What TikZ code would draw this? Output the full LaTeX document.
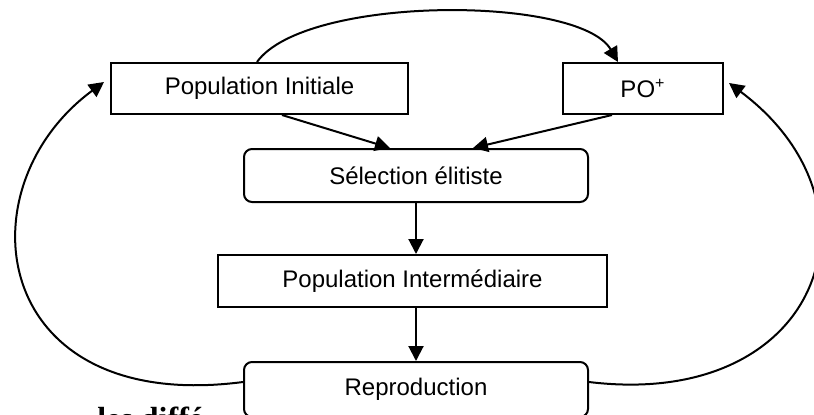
\documentclass[tikz,border=0pt]{standalone}
\usepackage{fontspec}
\setmainfont{Liberation Serif}
\setsansfont{Liberation Sans}
\usepackage{tikz}
\usetikzlibrary{positioning,arrows.meta}

\begin{document}
\begin{tikzpicture}[x=0.5pt, y=-0.5pt,
    every node/.style={font=\sffamily\fontsize{12}{14}\selectfont},
    box/.style={draw, line width=1pt, minimum height=25.5pt, inner sep=0pt},
    roundbox/.style={box, rounded corners=4pt},
    flow/.style={line width=1pt, -{Triangle[length=7.5pt,width=7.5pt]}}]
  \useasboundingbox (0,0) rectangle (814,414);
  \clip (0,0) rectangle (814,414);
  \node[box, minimum width=148.5pt] (init) at (259.5,88.5) {Population Initiale};
  \node[box, minimum width=80pt] (pareto) at (643,88.5) {PO\textsuperscript{+}};
  \node[roundbox, minimum width=172pt, minimum height=26.5pt] (select) at (416,175.5) {Sélection élitiste};
  \node[box, minimum width=194.5pt, minimum height=26pt,
        below=25.5pt of select, xshift=-1.75pt] (inter) {Population Intermédiaire};
  \node[roundbox, minimum width=172pt, minimum height=27.5pt,
        below=26.5pt of inter, xshift=1.75pt] (repro) {Reproduction};
  \node[font=\rmfamily\bfseries\fontsize{16}{19}\selectfont, anchor=base west,
        inner sep=0pt] (cut) at (97,429) {les diffé};

  \draw[flow] ([xshift=11.25pt]init.south) -- ([xshift=-13pt]select.north);
  \draw[flow] ([xshift=-15.5pt]pareto.south) -- ([xshift=28.5pt]select.north);
  \draw[flow] (select.south) -- (select.south |- inter.north);
  \draw[flow] (inter.south -| repro.north) -- (repro.north);
  \draw[flow] ([xshift=-1.25pt]init.north)
    .. controls (305,-5) and (579,-5) .. ([xshift=-12.5pt]pareto.north);
  \draw[flow] ([yshift=3.75pt]repro.west)
    .. controls (-10,415) and (-40,188) .. ([xshift=-3pt,yshift=3.25pt]init.west);
  \draw[flow] ([yshift=3.75pt]repro.east)
    .. controls (820,410) and (892,205) .. ([xshift=2.5pt,yshift=2.75pt]pareto.east);
\end{tikzpicture}
\end{document}
